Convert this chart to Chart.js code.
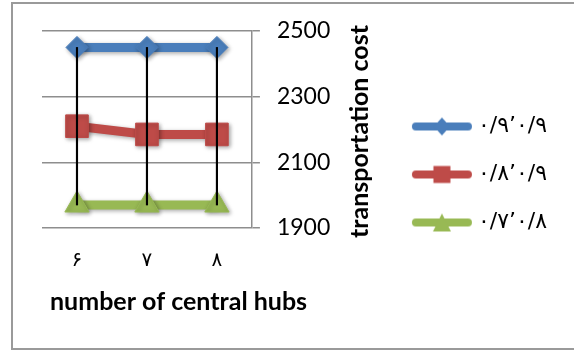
<!DOCTYPE html>
<html>
<head>
<meta charset="utf-8">
<script src="https://cdn.jsdelivr.net/npm/chart.js@4.4.1/dist/chart.umd.min.js"></script>
<style>
  body { margin: 0; background: #fff; }
  #wrap { position: relative; width: 574px; height: 351px; overflow: hidden; }
  #frame { position: absolute; left: 11px; top: 2px; width: 620px; height: 344px; border: 2px solid #9a9a9a; pointer-events: none; }
</style>
</head>
<body>
<div id="wrap">
  <canvas id="chart" width="574" height="351"></canvas>
  <div id="frame"></div>
</div>
<script>
const hubs = ['۶', '۷', '۸'];
const seriesNames = ['۰/۹’۰/۹', '۰/۸’۰/۹', '۰/۷’۰/۸'];
const cost99 = [2450, 2450, 2450];
const cost89 = [2210, 2185, 2185];
const cost78 = [1970, 1970, 1970];
const yTicks = [1900, 2100, 2300, 2500];
const xTitle = 'number of central hubs';
const yTitle = 'transportation cost';

const colors = ['#4a7ebb', '#be4b48', '#98b954'];
const styles = ['rectRot', 'rect', 'triangle'];
const radii = [11, 16, 14];
const allSeries = [cost99, cost89, cost78];

// high-low lines between the top and bottom series
const hiLo = hubs.map((_, i) => {
  const vals = allSeries.map(s => s[i]);
  return [Math.min(...vals), Math.max(...vals)];
});

function legendIcon(idx) {
  const c = document.createElement('canvas');
  c.width = 62; c.height = 20;
  const g = c.getContext('2d');
  g.strokeStyle = colors[idx];
  g.fillStyle = colors[idx];
  g.lineWidth = 8;
  g.lineCap = 'round';
  g.beginPath(); g.moveTo(5, 10); g.lineTo(57, 10); g.stroke();
  g.beginPath();
  if (idx === 0) {
    g.moveTo(31, 1); g.lineTo(39, 10); g.lineTo(31, 19); g.lineTo(23, 10);
  } else if (idx === 1) {
    g.rect(22.5, 1.5, 17, 17);
  } else {
    g.moveTo(31, 1); g.lineTo(40, 19); g.lineTo(22, 19);
  }
  g.closePath(); g.fill();
  return c;
}
const legendIcons = [0, 1, 2].map(legendIcon);

const shadowPlugin = {
  id: 'shadow',
  beforeDatasetDraw(chart, args) {
    if (args.meta.type !== 'line') return;
    const ctx = chart.ctx;
    ctx.save();
    ctx.shadowColor = 'rgba(0,0,0,0.35)';
    ctx.shadowBlur = 4;
    ctx.shadowOffsetX = 1.5;
    ctx.shadowOffsetY = 1.5;
  },
  afterDatasetDraw(chart, args) {
    if (args.meta.type !== 'line') return;
    chart.ctx.restore();
  }
};

const titlesPlugin = {
  id: 'titles',
  afterDraw(chart) {
    const { ctx, chartArea, scales } = chart;
    ctx.save();
    ctx.fillStyle = '#000';
    ctx.textAlign = 'center';
    ctx.textBaseline = 'middle';
    ctx.font = 'bold 25px Lato';
    ctx.translate(scales.y.left + 108, (chartArea.top + chartArea.bottom) / 2 + 2);
    ctx.rotate(-Math.PI / 2);
    ctx.fillText(yTitle, 0, 0);
    ctx.restore();

    ctx.save();
    ctx.fillStyle = '#000';
    ctx.textAlign = 'left';
    ctx.textBaseline = 'middle';
    ctx.font = 'bold 25px Lato';
    ctx.fillText(xTitle, chartArea.left + 8, 302);
    ctx.restore();
  }
};

const lineSets = allSeries.map((data, i) => ({
  type: 'line',
  label: seriesNames[i],
  data: data,
  borderColor: colors[i],
  backgroundColor: colors[i],
  borderWidth: 9,
  pointStyle: styles[i],
  pointRadius: radii[i],
  pointBorderWidth: 1,
  pointBorderColor: colors[i],
  pointBackgroundColor: colors[i],
  fill: false,
  tension: 0,
  order: 1
}));

new Chart(document.getElementById('chart'), {
  data: {
    labels: hubs,
    datasets: [
      ...lineSets,
      {
        type: 'bar',
        label: 'hilo',
        data: hiLo,
        backgroundColor: '#000',
        barThickness: 1.5,
        order: 0
      }
    ]
  },
  options: {
    responsive: false,
    animation: false,
    devicePixelRatio: 1,
    layout: { padding: { left: 42, top: 31, bottom: 33, right: 17 } },
    scales: {
      x: {
        offset: true,
        grid: { display: false, drawTicks: false },
        border: { display: false },
        ticks: { color: '#000', padding: 21, font: { family: 'DejaVu Sans', size: 20 } },
        afterFit(scale) { scale.height = 90; }
      },
      y: {
        position: 'right',
        min: 1900,
        max: 2500,
        afterBuildTicks(scale) { scale.ticks = yTicks.map(v => ({ value: v })); },
        grid: { color: '#8e8e8e', lineWidth: 1.5, tickLength: 8, drawTicks: true },
        border: { display: true, color: '#8e8e8e', width: 1.5 },
        ticks: { color: '#000', padding: 17, font: { family: 'Lato', size: 23 }, callback: v => String(v) },
        afterFit(scale) { scale.width = 139; }
      }
    },
    plugins: {
      tooltip: { enabled: false },
      legend: {
        position: 'right',
        maxWidth: 220,
        labels: {
          usePointStyle: true,
          pointStyleWidth: 50,
          padding: 26,
          color: '#000',
          font: { family: 'DejaVu Sans', size: 22 },
          generateLabels(chart) {
            const items = Chart.defaults.plugins.legend.labels.generateLabels(chart);
            items.forEach(it => { if (it.datasetIndex < 3) it.pointStyle = legendIcons[it.datasetIndex]; });
            return items;
          },
          filter: item => item.datasetIndex < 3
        }
      }
    }
  },
  plugins: [shadowPlugin, titlesPlugin]
});
</script>
</body>
</html>
